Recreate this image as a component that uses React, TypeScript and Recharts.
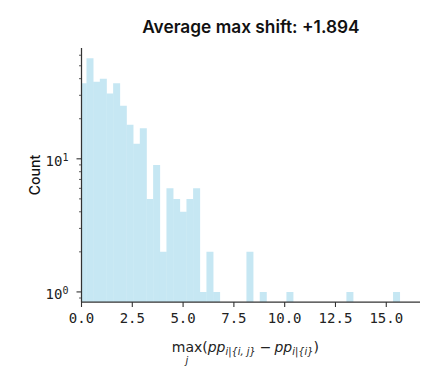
import { ComposedChart, Bar, XAxis, YAxis } from 'recharts';

// histogram of max shift, bins
const binStart = -0.066;
const binWidth = 0.328;
const counts = [
  37, 57, 38, 40, 31, 37, 25, 18, 13, 17,
  5, 9, 2, 6, 5, 4, 5, 6, 1, 2,
  1, 0, 0, 0, 0, 2, 0, 1, 0, 0,
  0, 1, 0, 0, 0, 0, 0, 0, 0, 0,
  1, 0, 0, 0, 0, 0, 0, 1,
];

const xTicks = [0, 2.5, 5, 7.5, 10, 12.5, 15];
const yMajor = [1, 10];
const yMinor = [0.9, 2, 3, 4, 5, 6, 7, 8, 9, 20, 30, 40, 50, 60];

const title = 'Average max shift: +1.894';

const data = counts
  .map((c, i) => ({ x: binStart + (i + 0.5) * binWidth, count: c }))
  .filter((d) => d.count > 0);

const AXIS = '#333';
const MONO = '"DejaVu Sans Mono", monospace';

function XTick({ x, y, payload }: any) {
  return (
    <g>
      <line x1={x} x2={x} y1={y} y2={y + 5} stroke={AXIS} strokeWidth={1.1} />
      <text x={x} y={y + 21} textAnchor="middle" fontFamily={MONO} fontSize={14} fill="#222">
        {Number(payload.value).toFixed(1)}
      </text>
    </g>
  );
}

function YTick({ x, y, payload }: any) {
  const v = payload.value;
  const major = yMajor.includes(v);
  return (
    <g>
      <line x1={x - (major ? 5 : 2.5)} x2={x} y1={y} y2={y} stroke={AXIS} strokeWidth={major ? 1.1 : 0.8} />
      {major && (
        <text x={x - 13} y={y + 7} textAnchor="end" fontFamily={MONO} fontSize={14} fill="#222">
          10
          <tspan fontSize={10} dy={-4.5}>{Math.round(Math.log10(v))}</tspan>
        </text>
      )}
    </g>
  );
}

function XLabel({ viewBox }: any) {
  const cx = viewBox.x + viewBox.width / 2;
  const x0 = cx - 79;
  const y0 = viewBox.y + 50;
  const f = '"DejaVu Sans", sans-serif';
  return (
    <g fontFamily={f} fill="#222">
      <text x={x0} y={y0} fontSize={14}>
        max(
        <tspan fontStyle="italic">pp</tspan>
        <tspan fontStyle="italic" fontSize={9.8} dy={3}>i|{'{'}i, j{'}'}</tspan>
        <tspan dy={-3} dx={4}>−</tspan>
        <tspan fontStyle="italic" dx={3}>pp</tspan>
        <tspan fontStyle="italic" fontSize={9.8} dy={3}>i|{'{'}i{'}'}</tspan>
        <tspan dy={-3}>)</tspan>
      </text>
      <text x={x0 + 15} y={y0 + 12} fontSize={9.8} fontStyle="italic" textAnchor="middle">
        j
      </text>
    </g>
  );
}

function YLabel({ viewBox }: any) {
  const cy = viewBox.y + viewBox.height / 2;
  const x = 40;
  return (
    <text
      x={x}
      y={cy}
      transform={`rotate(-90, ${x}, ${cy})`}
      textAnchor="middle"
      fontFamily="Inter, sans-serif"
      fontSize={14}
      fontWeight={500}
      fill="#111"
    >
      Count
    </text>
  );
}

export default function App() {
  return (
    <div style={{ position: 'fixed', left: 0, top: 0, width: 439, height: 385, background: '#fff' }}>
      <ComposedChart
        width={439}
        height={385}
        data={data}
        margin={{ top: 48, right: 19, bottom: 0, left: 21.5 }}
        barCategoryGap="-5%"
        barGap={0}
      >
        <text
          x={250.9}
          y={33}
          textAnchor="middle"
          fontFamily="Inter, sans-serif"
          fontSize={17.3}
          fontWeight={600}
          fill="#111"
        >
          {title}
        </text>
        <XAxis
          dataKey="x"
          type="number"
          domain={[0, 16.66]}
          allowDataOverflow
          ticks={xTicks}
          interval={0}
          height={83}
          tickSize={0}
          tickMargin={0}
          tickLine={false}
          tick={<XTick />}
          axisLine={{ stroke: AXIS, strokeWidth: 1.25 }}
          label={{ content: <XLabel /> }}
        />
        <YAxis
          type="number"
          scale="log"
          domain={[0.84, 68]}
          allowDataOverflow
          ticks={[...yMinor, ...yMajor].sort((a, b) => a - b)}
          interval={0}
          width={60}
          tickSize={0}
          tickMargin={0}
          tickLine={false}
          tick={<YTick />}
          axisLine={{ stroke: AXIS, strokeWidth: 1.25 }}
          label={{ content: <YLabel /> }}
        />
        <Bar dataKey="count" fill="#c6e7f3" isAnimationActive={false} />
      </ComposedChart>
    </div>
  );
}
